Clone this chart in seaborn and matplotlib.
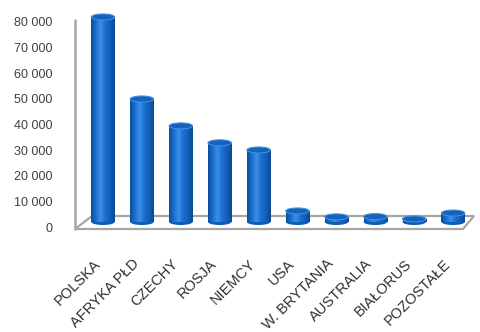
import numpy as np
import pandas as pd
import matplotlib
matplotlib.use("Agg")
import matplotlib.pyplot as plt
from matplotlib.patches import Ellipse, Polygon
from matplotlib.colors import LinearSegmentedColormap
from matplotlib.transforms import ScaledTranslation
import seaborn as sns

countries = ["POLSKA", "AFRYKA PŁD", "CZECHY", "ROSJA", "NIEMCY",
             "USA", "W. BRYTANIA", "AUSTRALIA", "BIAŁORUS", "POZOSTAŁE"]
visitors = [80000, 48000, 37500, 30900, 28100, 4300, 2000, 2100, 1200, 3500]
yticks = [0, 10000, 20000, 30000, 40000, 50000, 60000, 70000, 80000]
ytick_labels = ["0", "10 000", "20 000", "30 000", "40 000",
                "50 000", "60 000", "70 000", "80 000"]

df = pd.DataFrame({"kraj": countries, "liczba": visitors})

sns.set_theme(style="white")
plt.rcParams["font.family"] = ["Liberation Sans", "DejaVu Sans"]

W, H = 481, 332
fig = plt.figure(figsize=(W / 100, H / 100), dpi=100)
ax = fig.add_axes([75 / W, (H - 229) / H, (470 - 75) / W, (229 - 12) / H])

bar_w = 0.6
sns.barplot(data=df, x="kraj", y="liczba", color="#1466c6", width=bar_w,
            saturation=1, ax=ax, zorder=3)

spacing = 38.9                      # pixels between category centres
ax.set_xlim(-28 / spacing, -28 / spacing + 395 / spacing)
upp = 80000 / (222 - 17)            # value units per pixel
ax.set_ylim(-7 * upp, 80000 + 5 * upp)

# Cylinder shading across each bar
shade = LinearSegmentedColormap.from_list(
    "cyl", ["#0b4f9e", "#1a6fd0", "#3b8fe6", "#1b6fd0", "#125fb8", "#0a4994"])
grad = np.linspace(0, 1, 64).reshape(1, -1)
cap_h = 6 * upp
for patch in ax.patches:
    x0 = patch.get_x()
    w = patch.get_width()
    h = patch.get_height()
    im = ax.imshow(grad, cmap=shade, aspect="auto",
                   extent=[x0, x0 + w, 0, h], zorder=3.1)
    im.set_clip_path(patch)
    cx = x0 + w / 2
    ax.add_patch(Ellipse((cx, 0), w, cap_h, facecolor="#0e5cb4",
                         edgecolor="none", zorder=3.05))
    ax.add_patch(Ellipse((cx, h), w, cap_h, facecolor="#1561bd",
                         edgecolor="#3f8fe0", linewidth=0.8, zorder=3.3))
    patch.set_edgecolor("none")

# Floor of the 3D box
x_left = -28 / spacing
floor = Polygon([(x_left, -7 * upp), ((463 - 103) / spacing, -7 * upp),
                 ((474 - 103) / spacing, 6 * upp), ((92 - 103) / spacing, 6 * upp)],
                closed=True, facecolor="white", edgecolor="#a6a6a6",
                linewidth=1.6, zorder=1, clip_on=False)
ax.add_patch(floor)
ax.plot([x_left, x_left], [-7 * upp, 80000 - 3 * upp], color="#a6a6a6", lw=1.8,
        zorder=2, clip_on=False)

for s in ax.spines.values():
    s.set_visible(False)
ax.grid(False)
ax.set_xlabel("")
ax.set_ylabel("")
ax.set_yticks(yticks)
ax.set_yticklabels(ytick_labels, fontsize=9, color="#404040")
ax.tick_params(axis="y", length=0, pad=16)
ydown = ScaledTranslation(0, -5 / 100, fig.dpi_scale_trans)
for lbl in ax.get_yticklabels():
    lbl.set_horizontalalignment("right")
    lbl.set_transform(lbl.get_transform() + ydown)

ax.set_xticks(range(len(countries)))
ax.set_xticklabels(countries, rotation=45, ha="right", va="top",
                   rotation_mode="anchor", fontsize=10.5, color="#303030")
ax.tick_params(axis="x", length=0, pad=20)
xshift = ScaledTranslation(-10 / 100, 0, fig.dpi_scale_trans)
for lbl in ax.get_xticklabels():
    lbl.set_transform(lbl.get_transform() + xshift)

fig.savefig("out.png", dpi=100)
